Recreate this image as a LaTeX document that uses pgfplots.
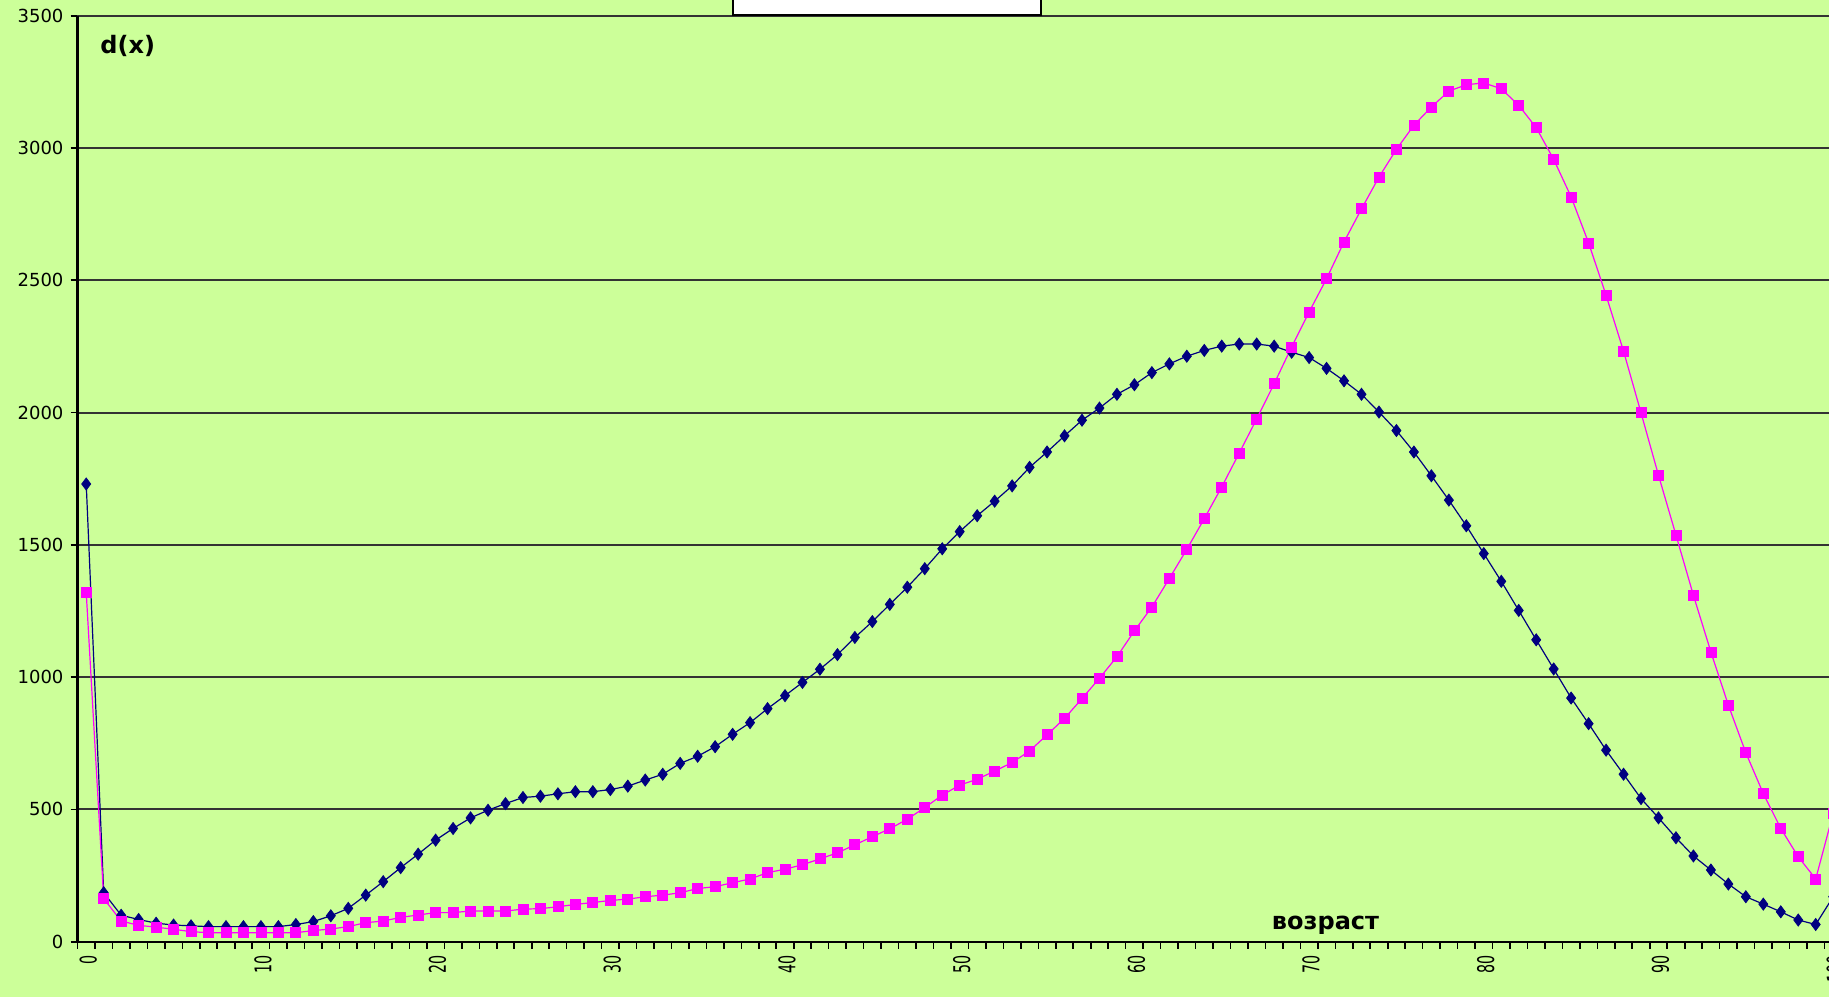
\documentclass[border=0pt]{standalone}
\usepackage{pgfplots}
\usepackage{pgfplotstable}
\pgfplotsset{compat=1.18}
\usepackage{fontspec}
\setmainfont{DejaVu Sans}
\definecolor{bg}{HTML}{CCFF99}
\definecolor{navy}{HTML}{000080}
\definecolor{mag}{HTML}{FF00FF}
\definecolor{gridc}{HTML}{333333}

\pgfplotstableread{
x y
0 1730
1 185
2 100
3 84
4 70
5 63
6 60
7 57
8 57
9 57
10 57
11 57
12 65
13 76
14 98
15 126
16 176
17 227
18 280
19 331
20 384
21 428
22 468
23 497
24 522
25 545
26 550
27 559
28 567
29 567
30 575
31 588
32 611
33 633
34 674
35 701
36 737
37 784
38 828
39 881
40 930
41 980
42 1030
43 1085
44 1150
45 1210
46 1275
47 1340
48 1410
49 1485
50 1550
51 1610
52 1665
53 1723
54 1793
55 1851
56 1912
57 1971
58 2017
59 2069
60 2105
61 2151
62 2184
63 2213
64 2235
65 2251
66 2259
67 2259
68 2251
69 2228
70 2208
71 2167
72 2120
73 2069
74 2002
75 1932
76 1851
77 1761
78 1669
79 1572
80 1467
81 1362
82 1252
83 1141
84 1031
85 921
86 824
87 724
88 633
89 541
90 468
91 393
92 324
93 271
94 218
95 170
96 142
97 113
98 82
99 65
100 170
}\male

\pgfplotstableread{
x y
0 1320
1 163
2 78
3 62
4 55
5 47
6 38
7 34
8 34
9 34
10 34
11 34
12 34
13 42
14 48
15 57
16 72
17 78
18 92
19 101
20 110
21 110
22 116
23 116
24 116
25 123
26 125
27 132
28 141
29 148
30 156
31 161
32 170
33 176
34 185
35 201
36 208
37 223
38 237
39 261
40 274
41 291
42 313
43 336
44 366
45 397
46 427
47 463
48 507
49 554
50 592
51 614
52 645
53 677
54 721
55 782
56 844
57 919
58 996
59 1077
60 1175
61 1265
62 1373
63 1483
64 1599
65 1719
66 1847
67 1976
68 2109
69 2248
70 2380
71 2506
72 2645
73 2770
74 2890
75 2995
76 3086
77 3155
78 3215
79 3239
80 3246
81 3224
82 3161
83 3077
84 2957
85 2815
86 2641
87 2443
88 2232
89 1999
90 1763
91 1537
92 1309
93 1095
94 894
95 714
96 560
97 428
98 321
99 237
100 485
}\female

\begin{document}
\begin{tikzpicture}
\begin{scope}
\clip (-38.75pt,-27.65pt) rectangle (875.75pt,470.85pt);
\fill[bg] (-38.75pt,-27.65pt) rectangle (875.75pt,470.85pt);
\begin{axis}[
  at={(0pt,0pt)}, anchor=south west,
  scale only axis, width=882.2pt, height=463pt,
  xmin=-0.5, xmax=100.5, ymin=0, ymax=3500,
  axis lines=left,
  axis line style={-, black, line width=1.2pt},
  xtick={0,10,...,100},
  major x tick style={draw=none},
  minor xtick={-0.5,0.5,...,100.5},
  ytick={0,500,...,3500},
  tick align=outside,
  major tick length=3.5pt, minor tick length=3.5pt,
  tick style={black, line width=0.8pt},
  ymajorgrids, grid style={gridc, line width=1pt},
  xticklabel={\scalebox{0.62}[1]{\pgfmathprintnumber{\tick}}},
  xticklabel style={rotate=90, anchor=east, font=\fontsize{11.5}{12}\selectfont, yshift=-1pt},
  yticklabel style={font=\fontsize{9}{10}\selectfont},
  /pgf/number format/assume math mode=true,
  /pgf/number format/1000 sep={},
  legend image code/.code={\draw[mark repeat=2, mark phase=2] plot coordinates {(0pt,0pt) (6pt,0pt) (12pt,0pt)};},
  legend style={at={(0.4588,1.0)}, anchor=south, draw=black, line width=1pt, fill=white,
    inner ysep=6pt, inner xsep=8pt,
    font=\fontsize{9}{10}\selectfont, legend columns=2,
    /tikz/every even column/.append style={column sep=14pt}},
]
\addplot[color=navy, line width=0.6pt, mark=diamond*, mark size=3pt,
  mark options={fill=navy, draw=navy, solid, line width=0.4pt}] table[x=x,y=y] {\male};
\addlegendentry{мужчины}
\addplot[color=mag, line width=0.6pt, mark=square*, mark size=2.5pt,
  mark options={fill=mag, draw=mag, solid, line width=0.4pt}] table[x=x,y=y] {\female};
\addlegendentry{женщины}
\node[font=\bfseries\fontsize{12}{14}\selectfont, anchor=base west, inner sep=0pt] at (axis cs:0.79,3359) {d(x)};
\node[font=\bfseries\fontsize{12}{14}\selectfont, anchor=base west, inner sep=0pt] at (axis cs:67.85,48) {возраст};
\end{axis}
\end{scope}
\pgfresetboundingbox
\path[use as bounding box] (-38.75pt,-27.65pt) rectangle (875.75pt,470.85pt);
\end{tikzpicture}
\end{document}
